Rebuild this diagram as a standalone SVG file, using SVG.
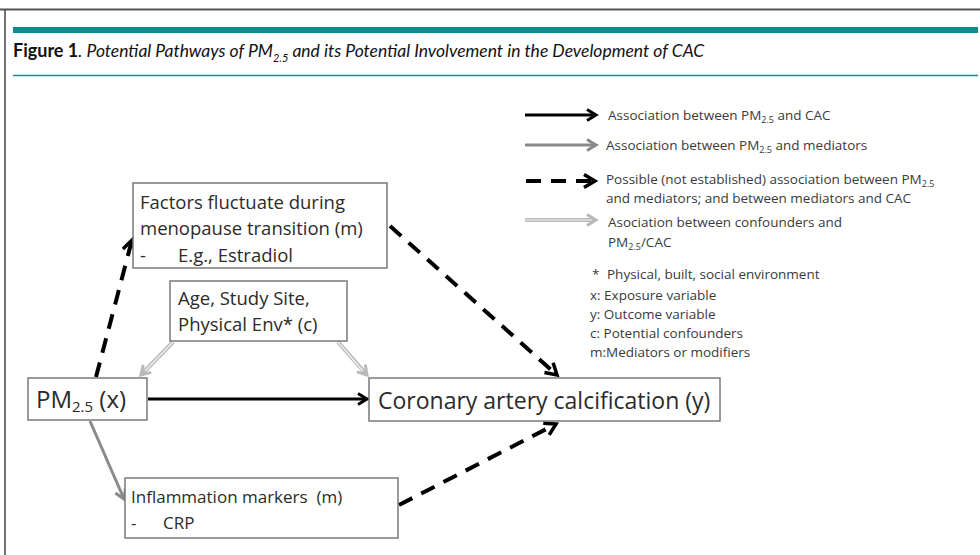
<svg xmlns="http://www.w3.org/2000/svg" width="980" height="555" viewBox="0 0 980 555">
<style>
  .frame{stroke:#444;stroke-width:1.5;fill:none}
  .box{fill:#fff;stroke:#7a7a7a;stroke-width:1.5}
  .t{font-family:"Open Sans","Noto Sans",sans-serif;fill:#2b2b2b}
  .lg{font-family:"Open Sans","Noto Sans",sans-serif;fill:#3a3a3a;font-size:13.5px}
  .blk{stroke:#000;stroke-width:3;fill:none}
  .gry{stroke:#8a8a8a;stroke-width:3;fill:none}
  .lgt{stroke:#b9b9b9;stroke-width:4;fill:none}
  .lgt-in{stroke:#f2f2f2;stroke-width:1.2;fill:none}
  .dsh{stroke:#000;stroke-width:4;fill:none;stroke-dasharray:15 10}
  .title{font-family:Lato,"Open Sans",sans-serif;fill:#111}
</style>
<defs>
  <marker id="ah-b" viewBox="0 0 14 14" refX="11" refY="7" markerWidth="14" markerHeight="14" markerUnits="userSpaceOnUse" orient="auto">
    <path d="M2,1.5 L11,7 L2,12.5" fill="none" stroke="#000" stroke-width="3" stroke-linejoin="miter"/>
  </marker>
  <marker id="ah-g" viewBox="0 0 14 14" refX="11" refY="7" markerWidth="14" markerHeight="14" markerUnits="userSpaceOnUse" orient="auto">
    <path d="M2,1.5 L11,7 L2,12.5" fill="none" stroke="#8a8a8a" stroke-width="3"/>
  </marker>
  <marker id="ah-l" viewBox="0 0 14 14" refX="11" refY="7" markerWidth="14" markerHeight="14" markerUnits="userSpaceOnUse" orient="auto">
    <path d="M2,1.5 L11,7 L2,12.5" fill="none" stroke="#b9b9b9" stroke-width="3"/>
  </marker>
  <marker id="ah-d" viewBox="0 0 16 16" refX="13" refY="8" markerWidth="16" markerHeight="16" markerUnits="userSpaceOnUse" orient="auto">
    <path d="M2,1.5 L13,8 L2,14.5" fill="none" stroke="#000" stroke-width="3.5"/>
  </marker>
</defs>
<rect width="980" height="555" fill="#fff"/>
<!-- frame -->
<g id="frame">
  <line x1="0" y1="9.5" x2="980" y2="9.5" stroke="#555" stroke-width="2"/>
  <line x1="5" y1="9" x2="5" y2="555" class="frame"/>
  <rect x="13" y="27" width="965" height="6" fill="#0f8a8f"/>
  <line x1="13" y1="75.5" x2="978" y2="75.5" stroke="#1a8a8e" stroke-width="1.5"/>
  <text class="title" x="13" y="57"><tspan font-weight="bold" font-size="18">Figure 1</tspan><tspan font-style="italic" font-size="17.5">. Potential Pathways of PM</tspan><tspan font-style="italic" font-size="11" dy="5">2.5</tspan><tspan font-style="italic" font-size="17.5" dy="-5"> and its Potential Involvement in the Development of CAC</tspan></text>
</g>
<!-- connectors -->
<g id="connectors">
  <line class="blk" x1="148" y1="399" x2="367" y2="399" marker-end="url(#ah-b)"/>
  <line class="gry" x1="90" y1="421" x2="124" y2="499" marker-end="url(#ah-g)"/>
  <line class="lgt" x1="173" y1="342" x2="141" y2="375" marker-end="url(#ah-l)"/>
  <line class="lgt-in" x1="173" y1="342" x2="145" y2="371"/>
  <line class="lgt" x1="338" y1="342" x2="367" y2="375" marker-end="url(#ah-l)"/>
  <line class="lgt-in" x1="338" y1="342" x2="363" y2="371"/>
  <line class="dsh" x1="96" y1="377" x2="132" y2="240" marker-end="url(#ah-d)"/>
  <line class="dsh" x1="390" y1="226" x2="557" y2="375" marker-end="url(#ah-d)"/>
  <line class="dsh" x1="399" y1="505" x2="556" y2="424" marker-end="url(#ah-d)"/>
</g>
<!-- nodes -->
<g id="node-factors">
  <rect class="box" x="133" y="183" width="254" height="85"/>
  <text class="t" font-size="18.5"><tspan x="140" y="209">Factors fluctuate during</tspan><tspan x="140" y="235">menopause transition (m)</tspan><tspan x="140" y="262">-</tspan><tspan x="178" y="262">E.g., Estradiol</tspan></text>
</g>
<g id="node-confounders">
  <rect class="box" x="170" y="281" width="177" height="60"/>
  <text class="t" font-size="18.5"><tspan x="178" y="305">Age, Study Site,</tspan><tspan x="178" y="331">Physical Env* (c)</tspan></text>
</g>
<g id="node-pm">
  <rect class="box" x="28" y="378" width="119" height="42"/>
  <text class="t" x="36" y="408" font-size="24">PM<tspan font-size="15" dy="4">2.5</tspan><tspan dy="-4"> (x)</tspan></text>
</g>
<g id="node-cac">
  <rect class="box" x="369" y="378" width="351" height="43"/>
  <text class="t" x="378" y="409" font-size="23">Coronary artery calcification (y)</text>
</g>
<g id="node-inflammation">
  <rect class="box" x="125" y="478" width="273" height="60"/>
  <text class="t" font-size="17"><tspan x="131" y="503">Inflammation markers&#160; (m)</tspan><tspan x="131" y="529">-</tspan><tspan x="163" y="529">CRP</tspan></text>
</g>
<!-- legend -->
<g id="legend">
  <line class="blk" x1="525" y1="115" x2="596" y2="115" marker-end="url(#ah-b)"/>
  <line class="gry" x1="525" y1="145" x2="596" y2="145" marker-end="url(#ah-g)"/>
  <line class="dsh" x1="526" y1="181" x2="595" y2="181" stroke-dasharray="14 12 100" marker-end="url(#ah-d)"/>
  <line class="lgt" x1="525" y1="220" x2="596" y2="220" marker-end="url(#ah-l)"/>
  <line class="lgt-in" x1="525" y1="220" x2="592" y2="220"/>
  <text class="lg" x="608" y="120">Association between PM<tspan font-size="9" dy="3">2.5</tspan><tspan dy="-3"> and CAC</tspan></text>
  <text class="lg" x="606" y="150">Association between PM<tspan font-size="9" dy="3">2.5</tspan><tspan dy="-3"> and mediators</tspan></text>
  <text class="lg" x="606" y="184">Possible (not established) association between PM<tspan font-size="9" dy="3">2.5</tspan></text>
  <text class="lg" x="606" y="203">and mediators; and between mediators and CAC</text>
  <text class="lg" x="608" y="227">Asociation between confounders and</text>
  <text class="lg" x="608" y="247">PM<tspan font-size="9" dy="3">2.5</tspan><tspan dy="-3">/CAC</tspan></text>
  <text class="lg" x="592" y="279">*</text>
  <text class="lg" x="607" y="279">Physical, built, social environment</text>
  <text class="lg" x="590" y="300">x: Exposure variable</text>
  <text class="lg" x="590" y="319">y: Outcome variable</text>
  <text class="lg" x="590" y="338">c: Potential confounders</text>
  <text class="lg" x="590" y="357">m:Mediators or modifiers</text>
</g>
</svg>
